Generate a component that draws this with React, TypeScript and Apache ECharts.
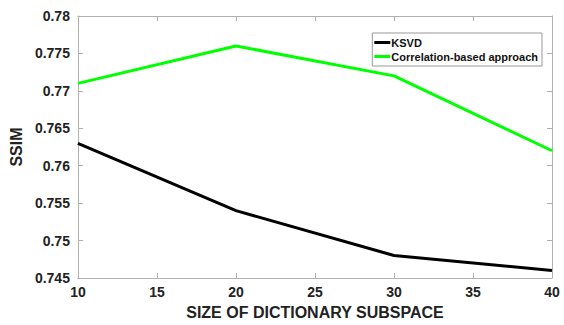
import React, { useEffect, useRef } from "react";
import * as echarts from "echarts";

const xValues = [10, 20, 30, 40];
const ksvd = [0.763, 0.754, 0.748, 0.746];
const corr = [0.771, 0.776, 0.772, 0.762];
const seriesNames = ["KSVD", "Correlation-based approach"];

export default function App() {
  const ref = useRef<HTMLDivElement>(null);
  useEffect(() => {
    if (!ref.current) return;
    const chart = echarts.init(ref.current, undefined, { renderer: "svg" });
    const axisLine = { show: true, lineStyle: { color: "#b0b0b0", width: 1 } };
    const tickStyle = { show: true, inside: true, length: 5, lineStyle: { color: "#b0b0b0" } };
    const labelStyle = { fontFamily: "Liberation Sans, Arial", fontWeight: "bold" as const, fontSize: 14, color: "#222" };
    chart.setOption({
      animation: false,
      backgroundColor: "#fff",
      grid: { left: 64, right: 12, top: 16, bottom: 41, containLabel: false },
      legend: {
        data: seriesNames,
        orient: "vertical",
        right: 22,
        top: 33,
        icon: "rect",
        itemWidth: 16,
        itemHeight: 3,
        itemGap: 3,
        padding: [4, 4, 4, 2],
        borderColor: "#999",
        borderWidth: 1,
        backgroundColor: "#fff",
        textStyle: { fontFamily: "Liberation Sans, Arial", fontWeight: "bold", fontSize: 11, color: "#111", padding: [0, 0, 0, -4] },
      },
      xAxis: [
        {
          type: "value",
          min: 10,
          max: 40,
          interval: 5,
          position: "bottom",
          axisLine,
          axisTick: tickStyle,
          splitLine: { show: false },
          axisLabel: { ...labelStyle, margin: 7 },
          name: "SIZE OF DICTIONARY SUBSPACE",
          nameLocation: "middle",
          nameGap: 26,
          nameTextStyle: { fontFamily: "Liberation Sans, Arial", fontWeight: "bold", fontSize: 16, color: "#222" },
        },
        {
          type: "value",
          min: 10,
          max: 40,
          interval: 5,
          position: "top",
          axisLine,
          axisTick: tickStyle,
          splitLine: { show: false },
          axisLabel: { show: false },
        },
      ],
      yAxis: [
        {
          type: "value",
          min: 0.745,
          max: 0.78,
          interval: 0.005,
          position: "left",
          axisLine,
          axisTick: tickStyle,
          splitLine: { show: false },
          axisLabel: { ...labelStyle, margin: 8, formatter: (v: number) => String(parseFloat(v.toFixed(3))) },
          name: "SSIM",
          nameLocation: "middle",
          nameGap: 36,
          nameTextStyle: { fontFamily: "Liberation Sans, Arial", fontWeight: "bold", fontSize: 16, color: "#222" },
        },
        {
          type: "value",
          min: 0.745,
          max: 0.78,
          interval: 0.005,
          position: "right",
          axisLine,
          axisTick: tickStyle,
          splitLine: { show: false },
          axisLabel: { show: false },
        },
      ],
      series: [
        {
          name: seriesNames[0],
          type: "line",
          data: xValues.map((x, i) => [x, ksvd[i]]),
          showSymbol: false,
          lineStyle: { color: "#000", width: 3 },
          itemStyle: { color: "#000" },
        },
        {
          name: seriesNames[1],
          type: "line",
          data: xValues.map((x, i) => [x, corr[i]]),
          showSymbol: false,
          lineStyle: { color: "#00ff00", width: 3 },
          itemStyle: { color: "#00ff00" },
        },
      ],
    });
    return () => chart.dispose();
  }, []);
  return <div ref={ref} style={{ width: 564, height: 325, position: "absolute", left: 0, top: 0 }} />;
}
